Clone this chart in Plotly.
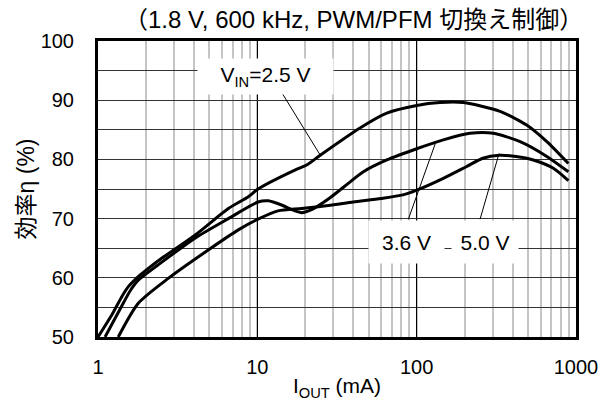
import plotly.graph_objects as go
import math

# ---- data ----
I_25 = [1.0, 1.22, 1.41, 1.55, 1.79, 2.07, 2.51, 4.06, 6.58, 8.78, 10.1, 17.2, 20.4, 24.8, 44.1, 64.9, 100, 140, 196, 334, 490, 656, 896]
E_25 = [50, 53.7, 56.8, 58.5, 60.2, 61.6, 63.3, 67.2, 71.7, 73.7, 75.0, 78.2, 79.05, 80.7, 85.3, 87.8, 89.1, 89.6, 89.6, 88.1, 85.8, 83.0, 79.3]

I_36 = [1.107, 1.44, 1.6, 1.79, 2.39, 4.06, 6.58, 10.1, 11.7, 14.2, 17.2, 19, 21.9, 27.9, 35.5, 46.3, 64.9, 100, 147, 216, 303, 446, 656, 896]
E_36 = [50, 55.7, 57.9, 59.6, 62.2, 66.7, 70.0, 72.8, 73.0, 72.3, 71.3, 71.0, 71.5, 73.3, 75.5, 77.9, 79.9, 81.8, 83.3, 84.4, 84.4, 83.0, 80.5, 77.9]

I_50 = [1.34, 1.79, 2.76, 4.92, 7.6, 10.1, 13.5, 19, 27.9, 40, 60, 82, 100, 147, 206, 260, 330, 420, 540, 721, 896]
E_50 = [50, 55.7, 59.9, 64.7, 68.1, 69.9, 71.3, 71.7, 72.2, 72.8, 73.4, 74.0, 74.8, 76.8, 78.8, 80.2, 80.7, 80.5, 79.9, 78.5, 76.4]

x_tick_vals = [1, 10, 100, 1000]
x_tick_text = ["1", "10", "100", "1000"]
y_tick_vals = [50, 60, 70, 80, 90, 100]

title_text = "（1.8 V, 600 kHz, PWM/PFM 切換え制御）"
x_title = "I<sub>OUT</sub> (mA)"
y_title = "効率η (%)"

# label boxes: text, x (mA), y (%), box width px, box height px
labels = [
    ("V<sub>IN</sub>=2.5 V", 11.3, 94.0, 133, 33),
    ("3.6 V", 86.4, 66.05, 73, 40),
    ("5.0 V", 269, 66.05, 64, 40),
]
# leader lines: ([x from, x to] mA, [y from, y to] %)
leader_x = [[14.3, 24.8], [88.7, 130.6], [250, 329]]
leader_y = [[91.2, 80.74], [69.9, 82.6], [69.9, 81.0]]

FONT = "Liberation Sans, Arial, Noto Sans CJK JP, sans-serif"

fig = go.Figure()
for xs, ys in zip(leader_x, leader_y):
    fig.add_trace(go.Scatter(x=xs, y=ys, mode="lines", line=dict(color="black", width=1),
                             showlegend=False, hoverinfo="skip"))
for xs, ys in [(I_25, E_25), (I_36, E_36), (I_50, E_50)]:
    fig.add_trace(go.Scatter(x=xs, y=ys, mode="lines",
                             line=dict(color="black", width=3, shape="spline", smoothing=0.7),
                             showlegend=False, hoverinfo="skip"))

annots = []
for (t, x, y, w, h) in labels:
    annots.append(dict(x=math.log10(x), y=y, xref="x", yref="y", text=t, showarrow=False,
                       bgcolor="white", width=w, height=h,
                       font=dict(family=FONT, size=21, color="black")))
annots.append(dict(x=(353 - 98) / (576 - 98), y=1 + (41 - 20) / (337 - 41),
                   xref="paper", yref="paper", text=title_text, showarrow=False,
                   xanchor="center", yanchor="middle",
                   font=dict(family=FONT, size=24, color="black")))

fig.update_layout(
    width=616, height=412,
    margin=dict(l=98, r=40, t=41, b=75, autoexpand=False),
    paper_bgcolor="white", plot_bgcolor="white",
    font=dict(family=FONT, size=20, color="black"),
    annotations=annots,
)

fig.update_xaxes(type="log", range=[0, 3], tickvals=x_tick_vals, ticktext=x_tick_text,
                 showgrid=True, gridcolor="black", gridwidth=1,
                 minor=dict(dtick="D1", showgrid=True, gridcolor="#c4c4c4", gridwidth=1.5),
                 showline=True, linecolor="black", linewidth=3, mirror=True,
                 ticks="", ticklabelstandoff=10, automargin=False,
                 title=dict(text=x_title, font=dict(family=FONT, size=21), standoff=2),
                 zeroline=False)
fig.update_yaxes(range=[50, 100], tickvals=y_tick_vals,
                 showgrid=True, gridcolor="#333333", gridwidth=1,
                 minor=dict(dtick=5, showgrid=True, gridcolor="#333333", gridwidth=1),
                 showline=True, linecolor="black", linewidth=3, mirror=True,
                 ticks="", ticklabelstandoff=17, automargin=False,
                 title=dict(text=y_title, font=dict(family=FONT, size=23), standoff=0),
                 zeroline=False)

fig.write_html("out.html", config={"displayModeBar": False},
               post_script="document.body.style.margin='0';document.body.style.padding='0';")
